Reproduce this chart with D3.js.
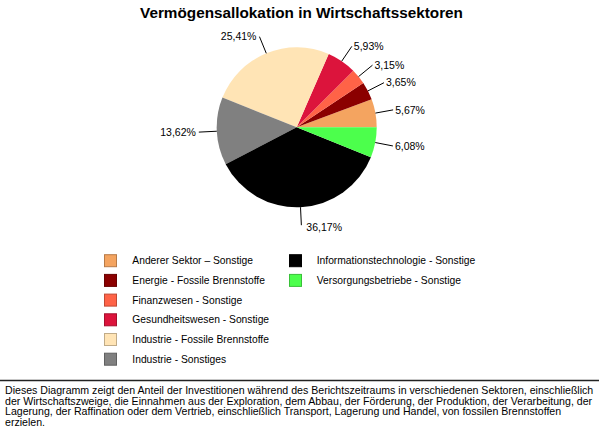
<!DOCTYPE html>
<html>
<head>
<meta charset="utf-8">
<script src="https://cdn.jsdelivr.net/npm/d3@7/dist/d3.min.js"></script>
<style>
  html, body { margin: 0; padding: 0; background: #fff; }
  svg { display: block; }
  text { font-family: Arial, "Liberation Sans", sans-serif; fill: #000; }
</style>
</head>
<body>
<svg id="chart" width="599" height="434"></svg>
<script>
const title = "Vermögensallokation in Wirtschaftssektoren";
const categories = [
  "Anderer Sektor – Sonstige",
  "Energie - Fossile Brennstoffe",
  "Finanzwesen - Sonstige",
  "Gesundheitswesen - Sonstige",
  "Industrie - Fossile Brennstoffe",
  "Industrie - Sonstiges",
  "Informationstechnologie - Sonstige",
  "Versorgungsbetriebe - Sonstige"
];
const values = [5.67, 3.65, 3.15, 5.93, 25.41, 13.62, 36.17, 6.08];
const valueLabels = ["5,67%", "3,65%", "3,15%", "5,93%", "25,41%", "13,62%", "36,17%", "6,08%"];
const colors = ["#F4A460", "#8B0000", "#FF6347", "#DC143C", "#FFE4B5", "#808080", "#000000", "#4CFF4C"];
const footnoteLines = [
  "Dieses Diagramm zeigt den Anteil der Investitionen während des Berichtszeitraums in verschiedenen Sektoren, einschließlich",
  "der Wirtschaftszweige, die Einnahmen aus der Exploration, dem Abbau, der Förderung, der Produktion, der Verarbeitung, der",
  "Lagerung, der Raffination oder dem Vertrieb, einschließlich Transport, Lagerung und Handel, von fossilen Brennstoffen",
  "erzielen."
];

const svg = d3.select("#chart");

// Title
svg.append("text")
  .attr("x", 301.5).attr("y", 18)
  .attr("text-anchor", "middle")
  .style("font-size", "15.3px").style("font-weight", "bold")
  .text(title);

// Pie
const cx = 296.7, cy = 127.3, R = 80;
const pie = d3.pie().sort(null)
  .startAngle(Math.PI / 2)
  .endAngle(Math.PI / 2 - 2 * Math.PI);
const arcs = pie(values);
const arc = d3.arc().innerRadius(0).outerRadius(R);
const g = svg.append("g").attr("transform", `translate(${cx},${cy})`);
g.selectAll("path.slice").data(arcs).enter().append("path")
  .attr("class", "slice")
  .attr("d", arc)
  .attr("fill", (d, i) => colors[i]);

// Leader lines and labels
const rOut = 98;
arcs.forEach((d, i) => {
  const a = (d.startAngle + d.endAngle) / 2; // d3 angle: 0 at top, clockwise
  const sx = Math.sin(a), sy = -Math.cos(a);
  const x1 = R * sx, y1 = R * sy, x2 = rOut * sx, y2 = rOut * sy;
  g.append("line")
    .attr("x1", x1).attr("y1", y1).attr("x2", x2).attr("y2", y2)
    .attr("stroke", "#000").attr("stroke-width", 1);
  const right = sx >= 0;
  const bottom = sy > 0.9;
  g.append("text")
    .attr("x", x2 + (right ? (bottom ? 5 : 2) : -3))
    .attr("y", y2 + (bottom ? 2 : 0))
    .attr("dy", "0.35em")
    .attr("text-anchor", right ? "start" : "end")
    .style("font-size", "10.5px")
    .text(valueLabels[i]);
});

// Legend
const perCol = 6;
const colX = [104.5, 289.5];
const textX = [132.3, 316.7];
const rowY = d3.scaleLinear().domain([0, 1]).range([260.7, 280.4]);
const leg = svg.append("g");
categories.forEach((c, i) => {
  const col = Math.floor(i / perCol), row = i % perCol;
  const y = rowY(row);
  leg.append("rect")
    .attr("x", colX[col]).attr("y", y - 6)
    .attr("width", 12).attr("height", 12)
    .attr("fill", colors[i])
    .attr("stroke", d3.color(colors[i]).darker(0.8))
    .attr("stroke-width", 1);
  leg.append("text")
    .attr("x", textX[col]).attr("y", y)
    .attr("dy", "0.35em")
    .style("font-size", "10.3px")
    .text(c);
});

// Footnote
svg.append("line")
  .attr("x1", 0).attr("x2", 599).attr("y1", 380.5).attr("y2", 380.5)
  .attr("stroke", "#222").attr("stroke-width", 1.5);
const ft = svg.append("g");
footnoteLines.forEach((l, i) => {
  ft.append("text")
    .attr("x", 5).attr("y", 394 + i * 10.6)
    .style("font-size", "10.6px")
    .text(l);
});
</script>
</body>
</html>
